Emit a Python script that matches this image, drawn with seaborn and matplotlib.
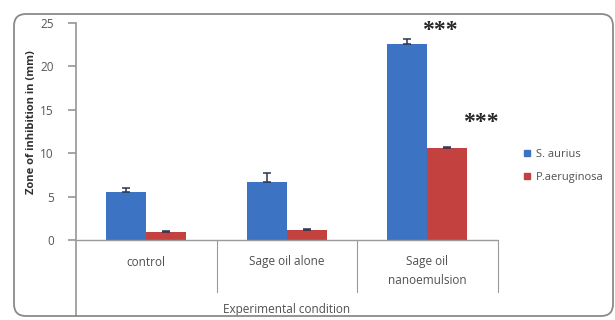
import matplotlib
matplotlib.use("Agg")
import matplotlib.pyplot as plt
import seaborn as sns
import pandas as pd
from matplotlib.patches import FancyBboxPatch, Patch
from matplotlib.transforms import IdentityTransform

categories = ["control", "Sage oil alone", "Sage oil\nnanoemulsion"]
series = ["S. aurius", "P.aeruginosa"]
s_aurius = [5.5, 6.7, 22.6]
s_aurius_err = [0.5, 1.0, 0.6]
p_aeruginosa = [0.95, 1.15, 10.6]
p_aeruginosa_err = [0.1, 0.1, 0.15]
yticks = [0, 5, 10, 15, 20, 25]

colors = ["#3D73C3", "#C3413E"]

sns.set_theme(style="white")
plt.rcParams["font.family"] = ["Open Sans", "DejaVu Sans"]

df = pd.DataFrame({
    "cond": categories * 2,
    "series": [series[0]] * 3 + [series[1]] * 3,
    "value": s_aurius + p_aeruginosa,
})

fig = plt.figure(figsize=(6.15, 3.2), dpi=100)
W, H = 615, 320
ax_left, ax_right, ax_top, ax_bot = 76, 497.5, 23, 316
ax = fig.add_axes([ax_left / W, (H - ax_bot) / H, (ax_right - ax_left) / W,
                   (ax_bot - ax_top) / H])

sns.barplot(data=df, x="cond", y="value", hue="series", palette=colors,
            width=0.57, ax=ax, legend=False, saturation=1, errorbar=None,
            linewidth=0)

errs = s_aurius_err + p_aeruginosa_err
vals = s_aurius + p_aeruginosa
for p, v, e in zip(ax.patches[:6], vals, errs):
    xc = p.get_x() + p.get_width() / 2
    ax.errorbar([xc], [v], yerr=[[0], [e]], fmt="none", ecolor="#2a3550",
                elinewidth=1.1, capsize=3, capthick=1.1)

ppu = (240 - ax_top) / 25.0
ax.set_ylim(-(ax_bot - 240) / ppu, 25)
ax.set_xlim(-0.5, 2.5)
ax.set_yticks(yticks)
ax.set_yticklabels([str(t) for t in yticks], fontsize=8.5, color="#555555")
ax.set_xticks([])
ax.set_xlabel("")
ax.set_ylabel("")
for s in ["top", "right", "bottom"]:
    ax.spines[s].set_visible(False)
ax.spines["left"].set_color("#9a9a9a")
ax.tick_params(axis="y", length=6, color="#9a9a9a", left=True, pad=10)

ax.axhline(0, color="#9a9a9a", lw=1, clip_on=False)
sep_bottom = -(292 - 240) / ppu
for xs in [0.5, 1.5, 2.5]:
    ax.plot([xs, xs], [0, sep_bottom], color="#9a9a9a", lw=0.8, clip_on=False)

for i, c in enumerate(categories):
    yc = 262 if "\n" not in c else 271
    ax.text(i, -(yc - 240) / ppu, c, ha="center", va="center", fontsize=8.5,
            color="#505050", linespacing=1.6)
ax.text(1.0, -(310 - 240) / ppu, "Experimental condition", ha="center",
        va="center", fontsize=8.5, color="#505050")

fig.text(32 / W, 1 - 122 / H, "Zone of inhibition in (mm)", rotation=90,
         ha="center", va="center", fontsize=8, fontweight="bold", color="#303030")

ax.text(-0.5 + (440 - ax_left) / 140.5, (240 - 30) / ppu, "***", ha="center",
        va="center", fontsize=17, fontweight="bold", family="Liberation Serif",
        clip_on=False)
ax.text(-0.5 + (481 - ax_left) / 140.5, (240 - 122) / ppu, "***", ha="center",
        va="center", fontsize=17, fontweight="bold", family="Liberation Serif",
        clip_on=False)

handles = [Patch(color=colors[0], label=series[0]),
           Patch(color=colors[1], label=series[1])]
fig.legend(handles=handles, loc="center left",
           bbox_to_anchor=(514 / W, 1 - 166 / H), frameon=False,
           fontsize=8, handlelength=0.5, handleheight=0.5,
           handletextpad=0.6, labelspacing=1.1, labelcolor="#505050")

frame = FancyBboxPatch((14, 4), 599, 302, boxstyle="round,pad=0,rounding_size=12",
                       transform=IdentityTransform(), fill=False,
                       edgecolor="#8a8a8a", lw=1.3)
fig.patches.append(frame)

fig.savefig("out.png", dpi=100)
